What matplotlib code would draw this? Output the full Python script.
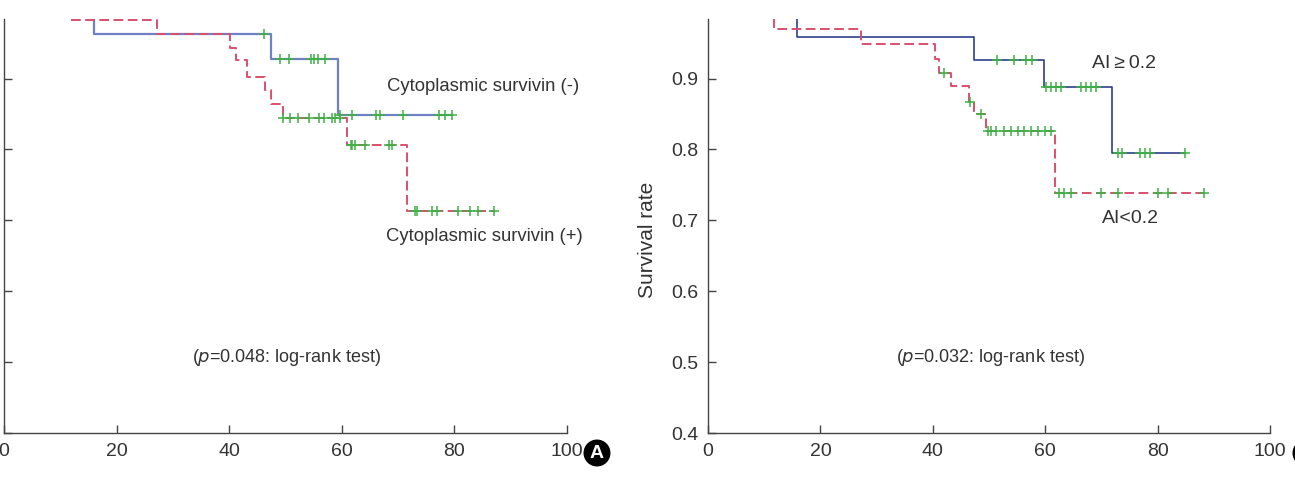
import matplotlib
matplotlib.use("Agg")
import matplotlib.pyplot as plt
import numpy as np

plt.rcParams["font.family"] = ["Liberation Sans", "DejaVu Sans"]

# Panel A: cytoplasmic survivin (-) / (+)
neg_times = [12.0, 16.0, 47.5, 59.4]
neg_surv = [1.0, 0.963, 0.928, 0.848]
neg_end = 79.5
neg_cens = [46.1, 49.1, 50.7, 54.5, 55.1, 55.8, 57.0, 59.6, 61.9,
            66.1, 66.7, 70.9, 77.2, 78.3, 79.5]

pos_times = [11.9, 27.2, 40.1, 41.2, 43.2, 46.4, 47.4, 49.6, 60.9, 71.5]
pos_surv = [0.982, 0.963, 0.943, 0.926, 0.902, 0.884, 0.864, 0.845, 0.806, 0.713]
pos_end = 87.0
pos_cens = [49.6, 50.8, 52.3, 54.2, 56.0, 56.8, 58.2, 58.8, 59.7, 61.6, 61.9,
            62.3, 64.1, 68.4, 68.9, 73.0, 73.4, 76.0, 76.9, 80.7, 82.8, 84.2, 87.0]

# Panel B: AI >= 0.2 / AI < 0.2
hi_times = [11.0, 15.8, 47.4, 59.8, 71.8]
hi_surv = [1.0, 0.959, 0.926, 0.888, 0.795]
hi_end = 84.8
hi_cens = [51.4, 54.5, 56.6, 57.6, 60.2, 61.1, 62.0, 62.9, 66.4, 67.3, 68.2,
           69.1, 72.9, 73.6, 76.8, 77.7, 78.6, 84.8]

lo_times = [11.0, 11.8, 27.3, 40.4, 41.1, 43.2, 46.5, 47.4, 49.5, 61.7]
lo_surv = [1.0, 0.970, 0.949, 0.927, 0.908, 0.890, 0.867, 0.850, 0.826, 0.739]
lo_end = 88.3
lo_cens = [42.0, 46.6, 48.5, 49.8, 50.4, 51.3, 52.7, 53.9, 55.1, 56.3, 57.5,
           58.7, 59.9, 61.0, 62.5, 63.4, 64.6, 70.0, 72.9, 80.1, 81.8, 88.3]

x_ticks = [0, 20, 40, 60, 80, 100]
y_ticks = [0.4, 0.5, 0.6, 0.7, 0.8, 0.9]

GREEN = "#3fb045"
RED = "#d9506f"
TXT = "#333333"


def level_at(t, times, surv):
    idx = np.searchsorted(times, t, side="right") - 1
    return surv[max(idx, 0)]


def km_curve(ax, times, surv, end, cens, color, dashed, lw):
    x = list(times) + [end]
    y = list(surv) + [surv[-1]]
    ls = (0, (5, 2.3)) if dashed else "-"
    ax.step(x, y, where="post", color=color, lw=lw, linestyle=ls, zorder=2)
    cy = [level_at(t, times, surv) for t in cens]
    ax.plot(cens, cy, linestyle="none", marker="+", ms=7.5, mew=1.1,
            color=GREEN, zorder=3)


def style_axes(ax):
    ax.set_xlim(0, 100)
    ax.set_ylim(0.4, 0.984)
    ax.set_xticks(x_ticks)
    ax.set_yticks(y_ticks)
    ax.set_yticklabels([f"{v:.1f}" for v in y_ticks])
    for s in ["top", "right"]:
        ax.spines[s].set_visible(False)
    for s in ["left", "bottom"]:
        ax.spines[s].set_color("#444444")
        ax.spines[s].set_linewidth(1.0)
    ax.tick_params(direction="in", length=5.5, width=1.0, color="#444444",
                   labelsize=14, labelcolor=TXT, pad=7)


fig = plt.figure(figsize=(12.95, 4.83), dpi=100)
W, H = 1295, 483
ax1 = fig.add_axes([4 / W, (H - 433) / H, 563 / W, 414 / H])
ax2 = fig.add_axes([708 / W, (H - 433) / H, 562 / W, 414 / H])

km_curve(ax1, neg_times, neg_surv, neg_end, neg_cens, "#7080c4", False, 1.6)
km_curve(ax1, pos_times, pos_surv, pos_end, pos_cens, RED, True, 1.4)
style_axes(ax1)
# the left panel's y labels fall outside the cropped picture
ax1.tick_params(axis="y", labelleft=False)
ax1.text(85.1, 0.889, "Cytoplasmic survivin (-)", ha="center", va="center",
         fontsize=13.3, color=TXT)
ax1.text(85.3, 0.677, "Cytoplasmic survivin (+)", ha="center", va="center",
         fontsize=13.3, color=TXT)
ax1.text(50.1, 0.507, "($\\it{p}$=0.048: log-rank test)", ha="center",
         va="center", fontsize=13.0, color=TXT)

km_curve(ax2, hi_times, hi_surv, hi_end, hi_cens, "#2d3f8e", False, 1.2)
km_curve(ax2, lo_times, lo_surv, lo_end, lo_cens, RED, True, 1.4)
style_axes(ax2)
ax2.text(74.0, 0.921, "AI\u2009\u2265\u20090.2", ha="center", va="center",
         fontsize=14, color=TXT)
ax2.text(75.1, 0.702, "AI<0.2", ha="center", va="center", fontsize=14,
         color=TXT)
ax2.text(50.2, 0.507, "($\\it{p}$=0.032: log-rank test)", ha="center",
         va="center", fontsize=13.0, color=TXT)
ax2.text(-0.107, 0.466, "Survival rate", transform=ax2.transAxes,
         rotation=90, ha="center", va="center", fontsize=15, color=TXT)

badge = dict(boxstyle="circle,pad=0.22", fc="black", ec="black")
fig.text(597 / W, 1 - 453 / H, "A", ha="center", va="center", color="white",
         fontsize=14, fontweight="bold", bbox=badge)
fig.text(1306 / W, 1 - 453 / H, "B", ha="center", va="center", color="white",
         fontsize=14, fontweight="bold", bbox=badge)

fig.savefig("out.png", dpi=100)
